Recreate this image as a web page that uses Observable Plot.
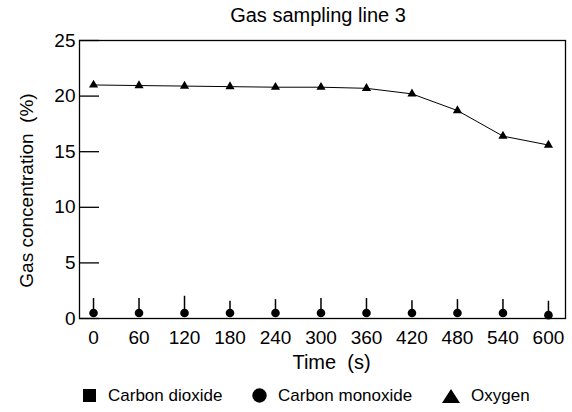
<!DOCTYPE html>
<html>
<head>
<meta charset="utf-8">
<script src="https://cdn.jsdelivr.net/npm/d3@7"></script>
<script src="https://cdn.jsdelivr.net/npm/@observablehq/plot@0.6"></script>
<style>
  body { margin: 0; background: #fff; font-family: "Liberation Sans", Arial, sans-serif; color: #000; }
  #title { height: 30px; line-height: 30px; font-size: 20px; text-align: center; padding-left: 64px; width: 508px; }
  #legend { position: relative; width: 572px; height: 37px; font-size: 17px; }
  #legend .lab { position: absolute; top: 11px; line-height: 20px; }
  #legend svg { position: absolute; }
</style>
</head>
<body>
<div id="title">Gas sampling line 3</div>
<div id="chart"></div>
<div id="legend"></div>
<script>
// Data
const times = [0, 60, 120, 180, 240, 300, 360, 420, 480, 540, 600];
const oxygen = [21.0, 20.95, 20.9, 20.85, 20.8, 20.8, 20.7, 20.2, 18.7, 16.4, 15.6];
const carbonMonoxide = [0.5, 0.5, 0.5, 0.5, 0.5, 0.5, 0.5, 0.5, 0.5, 0.5, 0.3];
const carbonMonoxideHigh = [1.8, 1.8, 2.0, 1.55, 1.7, 1.8, 1.8, 1.6, 1.7, 1.7, 1.55];
const carbonDioxide = [0.5, 0.5, 0.5, 0.5, 0.5, 0.5, 0.5, 0.5, 0.5, 0.5, 0.3];
const xTicks = [0, 60, 120, 180, 240, 300, 360, 420, 480, 540, 600];
const yTicks = [0, 5, 10, 15, 20, 25];
const seriesNames = ["Carbon dioxide", "Carbon monoxide", "Oxygen"];
const xLabel = "Time\u00a0 (s)";
const yLabel = "Gas concentration\u00a0 (%)";

const rows = times.map((t, i) => ({
  t, o2: oxygen[i], co: carbonMonoxide[i], coHi: carbonMonoxideHigh[i], co2: carbonDioxide[i]
}));

const chart = Plot.plot({
  width: 572,
  height: 345,
  marginTop: 10,
  marginBottom: 57,
  marginLeft: 79,
  marginRight: 7,
  style: { fontFamily: '"Liberation Sans", Arial, sans-serif', fontSize: "19px", color: "#000", background: "#fff" },
  x: { domain: [-18.5, 622.5] },
  y: { domain: [0, 25] },
  marks: [
    Plot.frame({ stroke: "#000", strokeWidth: 1.3 }),
    Plot.axisY({ ticks: yTicks, tickSize: -20, tickPadding: 24, tickFormat: d => String(d), fontSize: 19,
      label: null, strokeWidth: 1.3 }),
    Plot.axisX({ ticks: xTicks, tickSize: 0, tickPadding: 12, tickFormat: d => String(d), fontSize: 19,
      label: null }),
    Plot.text([yLabel], { text: d => d, frameAnchor: "left", textAnchor: "middle", lineAnchor: "middle",
      rotate: -90, dx: -53, dy: 11, fontSize: 19, fill: "#000" }),
    Plot.text([xLabel], { text: d => d, frameAnchor: "bottom", textAnchor: "middle", lineAnchor: "bottom",
      dx: 9, dy: 50, fontSize: 20, fill: "#000" }),
    Plot.ruleX(rows, { x: "t", y1: "co", y2: "coHi", stroke: "#000", strokeWidth: 1.5 }),
    Plot.dot(rows, { x: "t", y: "co2", symbol: "square", r: 2.8, fill: "#000", stroke: "none" }),
    Plot.dot(rows, { x: "t", y: "co", symbol: "circle", r: 4.3, fill: "#000", stroke: "none" }),
    Plot.line(rows, { x: "t", y: "o2", stroke: "#000", strokeWidth: 1 }),
    Plot.dot(rows, { x: "t", y: "o2", symbol: "triangle", r: 3.4, fill: "#000", stroke: "none" })
  ]
});
document.getElementById("chart").appendChild(chart);

// Legend
const legend = document.getElementById("legend");
const items = [
  { name: seriesNames[0], sym: '<rect x="0" y="0" width="13" height="13" fill="#000"/>', sx: 83, sy: 14, w: 13, h: 13, tx: 108 },
  { name: seriesNames[1], sym: '<circle cx="7.5" cy="7.5" r="7.2" fill="#000"/>', sx: 252, sy: 13, w: 15, h: 15, tx: 278 },
  { name: seriesNames[2], sym: '<path d="M9,0 L18,14 L0,14 Z" fill="#000"/>', sx: 442, sy: 14, w: 18, h: 14, tx: 471 }
];
for (const it of items) {
  const s = document.createElementNS("http://www.w3.org/2000/svg", "svg");
  s.setAttribute("width", it.w); s.setAttribute("height", it.h);
  s.style.left = it.sx + "px"; s.style.top = it.sy + "px";
  s.innerHTML = it.sym;
  legend.appendChild(s);
  const l = document.createElement("div");
  l.className = "lab"; l.style.left = it.tx + "px"; l.textContent = it.name;
  legend.appendChild(l);
}
</script>
</body>
</html>
